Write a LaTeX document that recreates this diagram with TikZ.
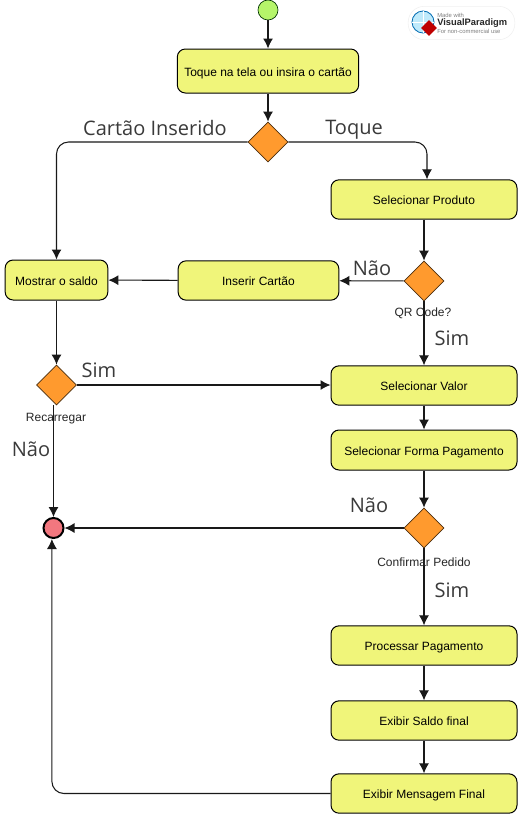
\documentclass[tikz,border=0pt]{standalone}
\usepackage{fontspec}
\setmainfont{Liberation Sans}
\newfontfamily\labelfont{Open Sans}
\usetikzlibrary{arrows.meta, shapes.geometric}
\definecolor{boxfill}{HTML}{F0F57A}
\definecolor{diamfill}{HTML}{FF9A2E}
\definecolor{startfill}{HTML}{B5F56A}
\definecolor{endfill}{HTML}{F2777F}
\definecolor{labelgray}{HTML}{3A3A3A}

\tikzset{
  action/.style={draw=black, fill=boxfill, rounded corners=6pt, line width=0.75pt, minimum height=29.5pt, font=\fontsize{9}{11}\selectfont, inner sep=0pt, text height=8.1pt, text depth=0pt},
  decision/.style={diamond, shape aspect=1, draw=black!70!diamfill, fill=diamfill, minimum width=30pt, minimum height=30pt, inner sep=0pt, line width=0.6pt},
  guard/.style={font=\labelfont\fontsize{15}{17}\selectfont, text=labelgray, inner sep=0pt},
  caption/.style={font=\fontsize{9}{11}\selectfont, text=black!85, inner sep=0pt},
  flow/.style={line width=0.8pt, black!90, -{Latex[length=7.5pt,width=7.5pt]}, rounded corners=9pt},
}

\begin{document}
\begin{tikzpicture}[x=0.75pt, y=-0.75pt]

\useasboundingbox[fill=white] (0,0) rectangle (519,814);

% initial and final
\node[circle, draw=black!80!green, fill=startfill, minimum size=15pt, inner sep=0pt, line width=0.5pt] (start) at (268,10) {};
\node[circle, draw=black, fill=endfill, minimum size=15pt, inner sep=0pt, line width=1.5pt] (finish) at (53.5,528) {};

% actions
\node[action, minimum width=136pt, minimum height=33pt] (touch) at (268,71) {Toque na tela ou insira o cartão};
\node[action, minimum width=139.5pt] (product) at (424,199.5) {Selecionar Produto};
\node[action, minimum width=120.5pt] (card) at (258.5,280.5) {Inserir Cartão};
\node[action, minimum width=77pt, minimum height=30pt] (balance) at (56.5,280) {Mostrar o saldo};
\node[action, minimum width=139.5pt] (amount) at (424,385.5) {Selecionar Valor};
\node[action, minimum width=139.5pt, minimum height=30pt] (payform) at (424,450) {Selecionar Forma Pagamento};
\node[action, minimum width=139.5pt] (process) at (424,645.5) {Processar Pagamento};
\node[action, minimum width=139.5pt] (finalbal) at (424,720.5) {Exibir Saldo final};
\node[action, minimum width=139.5pt] (finalmsg) at (424,793.5) {Exibir Mensagem Final};

% decisions
\node[decision] (dinput) at (268,142) {};
\node[decision] (dqr) at (424,281) {};
\node[decision] (drecharge) at (56.5,385) {};
\node[decision] (dconfirm) at (424,528) {};

% flows
\draw[flow] (start) -- (touch);
\draw[flow] (touch) -- (dinput);
\draw[flow] (dinput) -| (balance);
\draw[flow] (dinput) -| ([xshift=2.25pt]product.north);
\draw[flow] (product) -- (dqr);
\draw[flow] (dqr) -- (card);
\draw[flow] (card) -- (balance);
\draw[flow] (balance) -- (drecharge);
\draw[flow] (dqr) -- (amount);
\draw[flow] (drecharge) -- (drecharge -| amount.west);
\draw[flow] (amount) -- (payform);
\draw[flow] (payform) -- (dconfirm);
\draw[flow] (dconfirm) -- (finish);
\draw[flow] (dconfirm) -- (process);
\draw[flow] (process) -- (finalbal);
\draw[flow] (finalbal) -- (finalmsg);
\draw[flow] (drecharge.south -| finish) -- (finish);
\draw[flow] (finalmsg) -| ([xshift=-1.2pt]finish.south);

% guards
\node[guard] (gcard) at (155,128) {Cartão Inserido};
\node[guard] (gtouch) at (354,130) {Toque};
\node[guard] (gqrno) at (372,268) {Não};
\node[guard] (gqryes) at (452,338) {Sim};
\node[guard] (grecyes) at (99,370) {Sim};
\node[guard] (grecno) at (31,449) {Não};
\node[guard] (gconfno) at (369,505) {Não};
\node[guard] (gconfyes) at (452,590) {Sim};

% captions
\node[caption] (cqr) at (423,313) {QR Code?};
\node[caption] (crec) at (56,419) {Recarregar};
\node[caption] (cconf) at (424,562) {Confirmar Pedido};

% watermark
\node[draw=black!6, fill=white, rounded corners=12pt, minimum width=80pt, minimum height=25pt, inner sep=0pt] (badge) at (461.5,23) {};
\node[circle, draw=blue!40!cyan!70!black, fill=cyan!25, minimum size=16.5pt, inner sep=0pt, line width=0.6pt] (globe) at (423,22) {};
\draw[white, line width=0.4pt] (globe.west) -- (globe.east) (globe.north) -- (globe.south);
\node[diamond, fill=red!75!black, minimum size=12pt, inner sep=0pt] (logo) at (429,28) {};
\node[anchor=west, font=\fontsize{4.4}{5}\selectfont, text=black!50, inner sep=0pt] (vpmade) at (437,15) {Made with};
\node[anchor=west, font=\bfseries\fontsize{7}{8}\selectfont, text=black!85, inner sep=0pt] (vpname) at (437,23) {VisualParadigm};
\node[anchor=west, font=\fontsize{4.4}{5}\selectfont, text=black!50, inner sep=0pt] (vpuse) at (437,31) {For non-commercial use};

\end{tikzpicture}
\end{document}
